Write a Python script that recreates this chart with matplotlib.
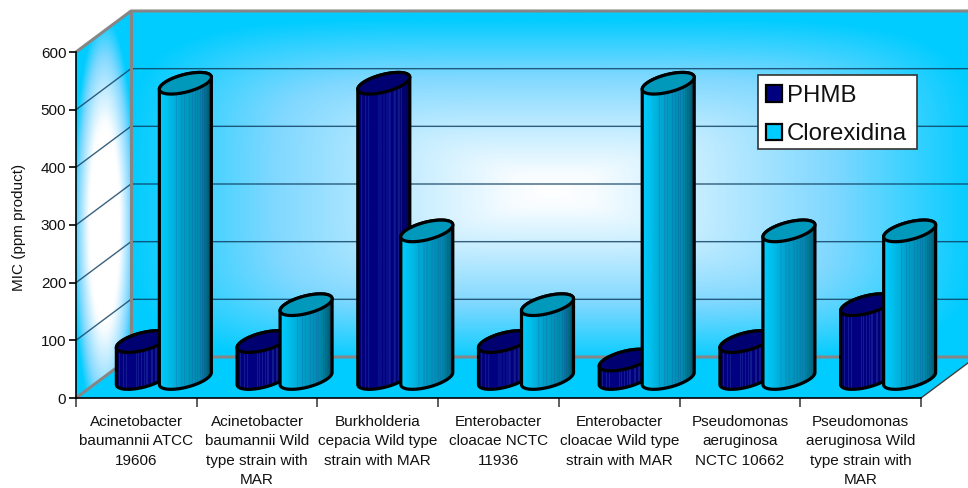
import numpy as np
import matplotlib
matplotlib.use("Agg")
import matplotlib.pyplot as plt
from matplotlib.patches import Polygon, Patch, Rectangle
from matplotlib.colors import LinearSegmentedColormap, to_rgb

plt.rcParams['font.family'] = ['Liberation Sans', 'DejaVu Sans']

categories = [
    "Acinetobacter\nbaumannii ATCC\n19606",
    "Acinetobacter\nbaumannii Wild\ntype strain with\nMAR",
    "Burkholderia\ncepacia Wild type\nstrain with MAR",
    "Enterobacter\ncloacae NCTC\n11936",
    "Enterobacter\ncloacae Wild type\nstrain with MAR",
    "Pseudomonas\naeruginosa\nNCTC 10662",
    "Pseudomonas\naeruginosa Wild\ntype strain with\nMAR",
]
phmb = [64, 64, 512, 64, 32, 64, 128]
clorexidina = [512, 128, 256, 128, 512, 256, 256]
yticks = [0, 100, 200, 300, 400, 500, 600]

W, H = 968, 488
fig = plt.figure(figsize=(W / 100, H / 100), dpi=100, facecolor="white")

# Plot frame in figure pixels
L, R, B, T = 76, 921, 398, 52
ax = fig.add_axes([L / W, 1 - B / H, (R - L) / W, (B - T) / H])
ax.set_xlim(0, 7)
ax.set_ylim(0, 600)
ax.patch.set_visible(False)

px_x = 7 / (R - L)          # data units per pixel, horizontally
px_y = 600 / (B - T)        # data units per pixel, vertically
DX, DY = 55 * px_x, 41 * px_y   # oblique offset from front to back wall


def clipped_image(array, extent, outline, cmap, z, interp="bilinear"):
    """Draw a value array as an image, cut to a polygon that may leave the axes."""
    im = ax.imshow(array, extent=extent, origin="lower", cmap=cmap, vmin=0, vmax=1,
                   aspect="auto", zorder=z, interpolation=interp)
    im.set_clip_box(fig.bbox)
    im.set_clip_path(Polygon(outline, closed=True, transform=ax.transData))
    return im


wall_cmap = LinearSegmentedColormap.from_list(
    "wall", [(0, "#00ccff"), (0.34, "#80d8ff"), (0.67, "#c8eeff"), (0.9, "#f6fcff"), (1, "#ffffff")])

# Back wall: glow that fades outward to the saturated edge colour
bx0, bx1 = DX, 7 + DX
by0, by1 = DY, 600 + DY
XX, YY = np.meshgrid(np.linspace(bx0, bx1, 420), np.linspace(by0, by1, 200))
cx, cy = (bx0 + bx1) / 2, 360
p = 5.0
dist = (np.abs((XX - cx) / 3.52) ** p + np.abs((YY - cy) / 300) ** p) ** (1 / p)
clipped_image(1 - np.clip(dist, 0, 1), [bx0, bx1, by0, by1],
              [(bx0, by0), (bx1, by0), (bx1, by1), (bx0, by1)], wall_cmap, 1)

# Left side wall
SX, SY = np.meshgrid(np.linspace(0, DX, 80), np.linspace(0, 600 + DY, 200))
sdist = np.sqrt(((SX - DX * 0.52) / (DX * 0.55)) ** 2 + ((SY - 300) / 340) ** 2)
side = np.clip(0.12 + (1 - sdist) * 1.7, 0, 1)
clipped_image(side, [0, DX, 0, 600 + DY], [(0, 0), (DX, DY), (DX, 600 + DY), (0, 600)],
              wall_cmap, 1)

# Floor
ax.add_patch(Polygon([(0, 0), (7, 0), (7 + DX, DY), (DX, DY)], closed=True,
                     fc="#00ccff", ec="none", zorder=2, clip_on=False))

# Gridlines on both walls
grid_col = "#0a3a5c"
for v in yticks[1:-1]:
    ax.plot([0, DX, 7 + DX], [v, v + DY, v + DY], color=grid_col, lw=1.0, alpha=0.8, zorder=3,
            clip_on=False, solid_capstyle="butt")

# Wall borders
edge_col = "#868686"
edge = dict(color=edge_col, lw=2.2, zorder=4, clip_on=False, solid_capstyle="butt")
ax.plot([0, DX, 7 + DX], [600, 600 + DY, 600 + DY], **edge)
ax.plot([DX, DX], [DY, 600 + DY], **edge)
ax.plot([0, DX, 7 + DX], [0, DY, DY], **edge)
ax.plot([7, 7 + DX], [0, DY], color="#404040", lw=1, zorder=4, clip_on=False)

# Cylinders
HALF_W = 26 * px_x
TILT = 6 * px_y
MINOR = 9 * px_y
BASE_X = 27.5 * px_x
BASE_Y = 19.5 * px_y
SEP = 21.5 * px_x

clor_cmap = LinearSegmentedColormap.from_list(
    "clor", [(0, "#00ccff"), (0.15, "#00c0ee"), (0.45, "#009fc6"), (0.8, "#0088aa"),
             (0.93, "#006a85"), (1, "#004a60")])
navy_cmap = LinearSegmentedColormap.from_list(
    "navy", [(0, "#00006a"), (0.1, "#000080"), (0.6, "#000080"), (0.9, "#00006c"), (1, "#000050")])
light_navy = np.array(to_rgb("#2a3aa8"))

# Column indexes of the pale vertical facets on a cylinder's body
navy_facets = [3, 7, 10, 20, 22, 25, 28, 30, 31, 35, 36, 39, 40, 42]
clor_facets = [17, 22, 25, 30, 33, 36, 38, 41, 43, 45]


def cylinder(xc, value, cmap, cap, z, facets, strength):
    t = np.linspace(0, 2 * np.pi, 181)
    ex = HALF_W * np.cos(t)
    ey = TILT * np.cos(t) + MINOR * np.sin(t)
    low = t >= np.pi            # lower half of the ellipse
    y0, y1 = BASE_Y, BASE_Y + value
    order = np.argsort(ex[low])
    bx, by = (xc + ex[low])[order], (y0 + ey[low])[order]
    order2 = np.argsort(-ex[~low])
    ux, uy = (xc + ex[~low])[order2], (y1 + ey[~low])[order2]
    body = np.column_stack([np.r_[bx, ux], np.r_[by, uy]])
    rgba = cmap(np.linspace(0, 1, 52))
    for k in facets:
        rgba[k, :3] += strength * (light_navy - rgba[k, :3])
    im = ax.imshow(rgba[None, :, :], extent=[xc - HALF_W, xc + HALF_W, by.min(), uy.max()],
                   origin="lower", aspect="auto", zorder=z, interpolation="bilinear")
    im.set_clip_box(fig.bbox)
    im.set_clip_path(Polygon(body, closed=True, transform=ax.transData))
    ax.add_patch(Polygon(body, closed=True, fc="none", ec="black", lw=2.3, zorder=z + 0.1,
                         clip_on=False, joinstyle="round"))
    ax.add_patch(Polygon(np.column_stack([xc + ex, y1 + ey]), closed=True, fc=cap, ec="black",
                         lw=2.3, zorder=z + 0.2, clip_on=False))


for i, (a, b) in enumerate(zip(phmb, clorexidina)):
    mid = i + 0.5 + BASE_X
    cylinder(mid - SEP, a, navy_cmap, "#000070", 10 + 2 * i, navy_facets, 0.45)
    cylinder(mid + SEP, b, clor_cmap, "#0099bb", 11 + 2 * i, clor_facets, 0.2)

ax.set_xlim(0, 7)
ax.set_ylim(0, 600)

# Axes
for s in ("top", "right"):
    ax.spines[s].set_visible(False)
for s in ("left", "bottom"):
    ax.spines[s].set_linewidth(1.2)
    ax.spines[s].set_zorder(40)
ax.set_xticks(range(8))
ax.set_xticklabels([])
ax.set_xticks([i + 0.5 for i in range(7)], minor=True)
ax.set_xticklabels(categories, minor=True, fontsize=11, color="#111111", linespacing=1.5,
                   va="top", ha="center")
ax.tick_params(axis="x", which="minor", length=0, pad=12)
ax.tick_params(axis="x", which="major", length=6.5, width=1.1, color="#333333")
ax.set_yticks(yticks)
ax.tick_params(axis="y", length=5, width=1.2, labelsize=11, pad=2, labelcolor="#111111")
ax.set_ylabel("MIC (ppm product)", fontsize=11, color="#111111")
ax.yaxis.set_label_coords(-50 / (R - L), (B - 227) / (B - T))

# Legend: white box with the entries laid over it
ax.add_patch(Rectangle((px_x * (758 - L), px_y * (B - 149)), px_x * 159, px_y * 74,
                       fc="white", ec="#333333", lw=1.2, zorder=59, clip_on=False))
handles = [Patch(fc="#000080", ec="black", lw=1.6, label="PHMB"),
           Patch(fc="#00ccff", ec="black", lw=1.6, label="Clorexidina")]
leg = ax.legend(handles=handles, loc="upper left",
                bbox_to_anchor=((758 - L) / (R - L), (B - 77) / (B - T)), fontsize=17.3,
                frameon=False, borderaxespad=0,
                handlelength=0.66, handleheight=0.66, handletextpad=0.22, borderpad=0.33,
                labelspacing=0.68, labelcolor="#111111")
leg.set_zorder(60)

fig.savefig("out.png", dpi=100)
